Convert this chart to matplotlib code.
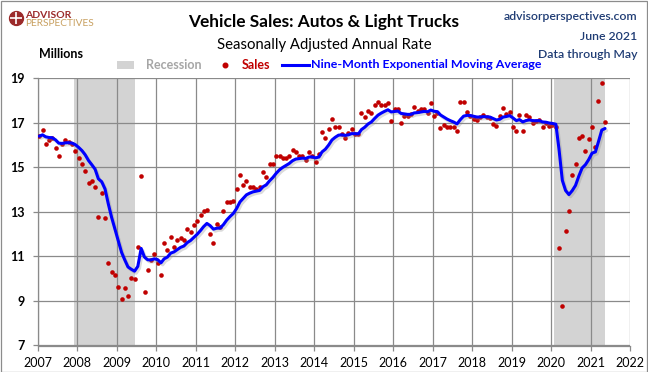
import numpy as np
import pandas as pd
import matplotlib
matplotlib.use("Agg")
import matplotlib.pyplot as plt
import matplotlib.dates as mdates
import matplotlib.patheffects as pe
from matplotlib.patches import Rectangle
from matplotlib.lines import Line2D

plt.rcParams['font.family'] = ['Lato', 'DejaVu Sans']

# ---- data (millions, SAAR), monthly from Jan 2007 ----
first_month = "2007-01"
sales_2007 = [16.40, 16.70, 16.03, 16.21, 16.30, 15.85, 15.49, 16.03, 16.21, 16.13, 16.03, 15.73]
sales_2008 = [15.40, 15.17, 14.83, 14.28, 14.37, 14.10, 12.77, 13.83, 12.71, 10.70, 10.30, 10.15]
sales_2009 = [9.61, 9.08, 9.57, 9.21, 10.02, 9.98, 11.41, 14.59, 9.39, 10.38, 10.83, 11.09]
sales_2010 = [10.70, 10.15, 11.60, 11.29, 11.86, 11.42, 11.72, 11.81, 11.72, 12.22, 12.10, 12.39]
sales_2011 = [12.57, 12.84, 13.02, 13.07, 11.99, 11.59, 12.44, 12.30, 13.04, 13.44, 13.44, 13.47]
sales_2012 = [14.05, 14.64, 14.23, 14.41, 14.14, 14.14, 14.05, 14.10, 14.79, 14.55, 15.13, 15.13]
sales_2013 = [15.49, 15.53, 15.40, 15.44, 15.53, 15.80, 15.67, 15.49, 15.49, 15.35, 15.71, 15.49]
sales_2014 = [15.26, 15.62, 16.61, 16.30, 16.74, 17.15, 16.83, 16.83, 16.52, 16.34, 16.56, 16.74]
sales_2015 = [16.49, 16.49, 17.46, 17.24, 17.51, 17.42, 17.82, 17.94, 17.82, 17.82, 17.87, 17.10]
sales_2016 = [17.60, 17.60, 17.00, 17.30, 17.30, 17.39, 17.70, 17.52, 17.61, 17.61, 17.43, 17.88]
sales_2017 = [17.30, 17.43, 16.76, 16.89, 16.80, 16.80, 16.80, 16.62, 17.92, 17.92, 17.48, 17.30]
sales_2018 = [17.16, 17.12, 17.27, 17.34, 17.25, 17.21, 16.94, 16.85, 17.30, 17.65, 17.39, 17.48]
sales_2019 = [16.80, 16.62, 17.34, 16.62, 17.34, 17.25, 16.98, 17.07, 17.12, 16.80, 16.98, 16.85]
sales_2020 = [16.89, 16.80, 11.38, 8.78, 12.14, 13.04, 14.65, 15.14, 16.31, 16.40, 15.73, 16.26]
sales_2021 = [16.80, 15.91, 17.97, 18.78, 17.03]

recessions = [("2007-12", "2009-06"), ("2020-02", "2021-05")]
ema_span = 9  # nine-month exponential moving average

y_ticks = [7, 9, 11, 13, 15, 17, 19]

sales = np.array(sales_2007 + sales_2008 + sales_2009 + sales_2010 + sales_2011 +
                 sales_2012 + sales_2013 + sales_2014 + sales_2015 + sales_2016 +
                 sales_2017 + sales_2018 + sales_2019 + sales_2020 + sales_2021)
dates = pd.date_range(first_month + "-01", periods=len(sales), freq="MS") + pd.Timedelta(days=14)
ema = pd.Series(sales).ewm(span=ema_span, adjust=False).mean().values

# ---- figure ----
W, H = 648, 372
fig = plt.figure(figsize=(W / 100, H / 100), dpi=100)
fig.patch.set_facecolor("white")

def fx(x):
    return x / W

def fy(y):
    return 1 - y / H

L, R, T, B = 37.7, 630.0, 78.3, 345.5
ax = fig.add_axes([fx(L), fy(B), (R - L) / W, (B - T) / H])

grid_c = "#8a8a8a"
rec_c = "#d3d3d3"
red = "#c00000"
blue = "#0000ff"

for s, e in recessions:
    s_d = pd.Timestamp(s + "-01")
    e_d = pd.Timestamp(e + "-15")
    ax.axvspan(s_d, e_d, color=rec_c, lw=0, zorder=0.2)

ax.plot(dates, sales, linestyle="none", marker="o", markersize=3.3,
        markerfacecolor=red, markeredgecolor=red, markeredgewidth=0, zorder=3)
ax.plot(dates, ema, color=blue, lw=2.2, solid_capstyle="round", zorder=4,
        path_effects=[pe.SimpleLineShadow(offset=(1.2, -1.5), shadow_color="#888888", alpha=0.3),
                      pe.Normal()])

ax.set_xlim(pd.Timestamp("2007-01-01"), pd.Timestamp("2022-01-01"))
ax.set_ylim(7, 19)
ax.xaxis.set_major_locator(mdates.YearLocator())
ax.xaxis.set_major_formatter(mdates.DateFormatter("%Y"))
ax.set_yticks(y_ticks)
ax.set_yticklabels([str(v) for v in y_ticks], fontweight="bold")

ax.set_axisbelow(True)
ax.grid(True, color=grid_c, lw=0.9)
for sp in ["top", "right"]:
    ax.spines[sp].set_visible(False)
for sp in ["left", "bottom"]:
    ax.spines[sp].set_color(grid_c)
    ax.spines[sp].set_linewidth(0.9)
ax.tick_params(axis="both", direction="out", length=3.5, width=0.9, color=grid_c,
               labelsize=9, labelcolor="black")
ax.tick_params(axis="y", pad=6)
ax.tick_params(axis="x", pad=5)

# ---- texts ----
fig.text(fx(324), fy(22), "Vehicle Sales: Autos & Light Trucks", ha="center", va="center",
         fontsize=12.4, fontweight="bold", color="black")
fig.text(fx(324), fy(45), "Seasonally Adjusted Annual Rate", ha="center", va="center",
         fontsize=10.7, color="black")
fig.text(fx(39), fy(54), "Millions", ha="left", va="center", fontsize=9,
         fontweight="bold", color="black")

navy = "#1f3c74"
fig.text(fx(637), fy(17), "advisorperspectives.com", ha="right", va="center", fontsize=8.8,
         fontweight="semibold", color=navy)
fig.text(fx(637), fy(36), "June 2021", ha="right", va="center", fontsize=8.8,
         fontweight="semibold", color=navy)
fig.text(fx(637), fy(55), "Data through May", ha="right", va="center", fontsize=8.8,
         fontweight="semibold", color=navy)

# logo
fig.add_artist(Line2D([fx(15.5)], [fy(18)], marker="o", markersize=10, color="#9b2a2a",
                      transform=fig.transFigure))
fig.add_artist(Line2D([fx(15.5)], [fy(18)], marker="+", markersize=8, mew=1.2, color="white",
                      transform=fig.transFigure))
fig.text(fx(25), fy(15), "ADVISOR", ha="left", va="center", fontsize=7.5,
         fontweight="bold", color="#9b2a2a")
fig.text(fx(25), fy(23.5), "PERSPECTIVES", ha="left", va="center", fontsize=7.3,
         color="#c8a060")

# legend (manual)
ly = 65
fig.add_artist(Rectangle((fx(117), fy(69)), (134 - 117) / W, 8 / H, transform=fig.transFigure,
                         facecolor=rec_c, edgecolor="none"))
fig.text(fx(146), fy(ly), "Recession", ha="left", va="center", fontsize=9,
         fontweight="bold", color="#a6a6a6")
fig.add_artist(Line2D([fx(225)], [fy(ly)], marker="o", markersize=3.3, color=red, lw=0,
                      transform=fig.transFigure))
fig.text(fx(242), fy(ly), "Sales", ha="left", va="center", fontsize=9,
         fontweight="bold", color=red)
fig.add_artist(Line2D([fx(282), fx(309)], [fy(ly), fy(ly)], color=blue, lw=2.2,
                      transform=fig.transFigure))
fig.text(fx(311), fy(ly), "Nine-Month Exponential Moving Average", ha="left", va="center",
         fontsize=8.9, fontweight="bold", color=blue)

# outer border
fig.add_artist(Rectangle((0.5 / W, 0.5 / H), (W - 1.5) / W, (H - 1.5) / H, transform=fig.transFigure,
                         fill=False, edgecolor="#8c8c8c", lw=0.9))

fig.savefig("out.png", dpi=100)
